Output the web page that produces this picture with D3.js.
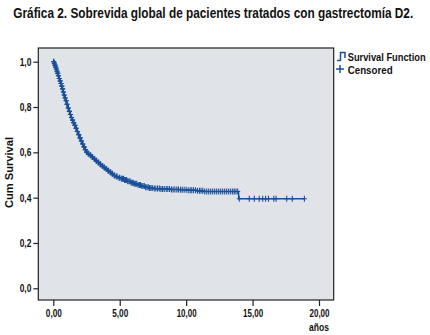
<!DOCTYPE html>
<html>
<head>
<meta charset="utf-8">
<script src="https://cdn.jsdelivr.net/npm/d3@7"></script>
<style>
  body { margin: 0; background: #fff; }
  svg { display: block; }
  text { font-family: "Liberation Sans", Arial, sans-serif; font-weight: bold; fill: #111; }
</style>
</head>
<body>
<div id="chart"></div>
<script>
// event times (years) and survival after each event
const eventTimes = [0.05, 0.10, 0.15, 0.20, 0.25, 0.30, 0.36, 0.42, 0.48, 0.54, 0.60, 0.66, 0.72, 0.78, 0.85, 0.92,
  1.00, 1.08, 1.16, 1.24, 1.32, 1.40, 1.48, 1.57, 1.66, 1.76, 1.86, 1.96, 2.06, 2.16, 2.26, 2.36, 2.46, 2.56,
  2.70, 2.85, 3.00, 3.15, 3.30, 3.45, 3.60, 3.75, 3.90, 4.05, 4.20, 4.35, 4.50, 4.65, 4.85, 5.05, 5.30, 5.55,
  5.80, 6.05, 6.30, 6.60, 6.90, 7.20, 7.55, 8.10, 8.80, 9.50, 10.10, 10.80, 11.30, 13.95];
const survival = [0.993, 0.985, 0.976, 0.968, 0.958, 0.949, 0.938, 0.926, 0.915, 0.904, 0.892, 0.880, 0.866, 0.853, 0.840, 0.828,
  0.812, 0.796, 0.781, 0.767, 0.754, 0.742, 0.731, 0.719, 0.706, 0.692, 0.678, 0.664, 0.650, 0.637, 0.624, 0.612, 0.601, 0.594,
  0.587, 0.579, 0.571, 0.563, 0.555, 0.547, 0.540, 0.533, 0.526, 0.519, 0.512, 0.505, 0.498, 0.493, 0.488, 0.484, 0.478, 0.472,
  0.466, 0.461, 0.456, 0.451, 0.446, 0.443, 0.440, 0.438, 0.436, 0.435, 0.433, 0.430, 0.427, 0.395];
// censored observations (years)
const censoredTimes = [0.02, 0.04, 0.07, 0.09, 0.12, 0.14, 0.17, 0.19, 0.22, 0.24, 0.27, 0.29, 0.31, 0.33, 0.35, 0.38,
  0.40, 0.44, 0.46, 0.51, 0.53, 0.57, 0.59, 0.63, 0.65, 0.69, 0.71, 0.75, 0.77, 0.81, 0.83, 0.88, 0.90, 0.95, 0.98,
  1.02, 1.04, 1.12, 1.14, 1.20, 1.22, 1.28, 1.30, 1.36, 1.38, 1.44, 1.46, 1.52, 1.55, 1.61, 1.64, 1.70, 1.73, 1.80,
  1.83, 1.90, 1.93, 2.00, 2.03, 2.10, 2.13, 2.20, 2.23, 2.30, 2.33, 2.40, 2.43, 2.50, 2.53, 2.62, 2.66, 2.78, 2.82,
  2.92, 2.96, 3.08, 3.12, 3.22, 3.26, 3.38, 3.42, 3.52, 3.56, 3.68, 3.72, 3.82, 3.86, 3.98, 4.02, 4.12, 4.16, 4.28,
  4.32, 4.42, 4.46, 4.58, 4.62, 4.75, 4.80, 4.95, 5.00, 5.12, 5.20, 5.28, 5.36, 5.45, 5.52, 5.60, 5.70, 5.78, 5.86,
  5.95, 6.02, 6.10, 6.20, 6.28, 6.38, 6.48, 6.56, 6.66, 6.75, 6.85, 6.95, 7.05, 7.15, 7.25, 7.35, 7.45, 7.60, 7.72,
  7.85, 7.98, 8.10, 8.22, 8.35, 8.50, 8.62, 8.75, 8.90, 9.02, 9.15, 9.30, 9.42, 9.58, 9.70, 9.85, 10.00, 10.15,
  10.30, 10.42, 10.55, 10.70, 10.85, 11.00, 11.12, 11.25, 11.40, 11.55, 11.70, 11.85, 12.00, 12.15, 12.30, 12.45,
  12.60, 12.75, 12.90, 13.05, 13.20, 13.35, 13.50, 13.62, 13.75, 13.88, 14.00, 14.75, 15.13, 15.50, 15.76, 15.98,
  16.20, 16.60, 16.77, 17.57, 17.99, 18.90];

const xTicks = [0, 5, 10, 15, 20];
const xTickLabels = ["0,00", "5,00", "10,00", "15,00", "20,00"];
const yTicks = [0, 0.2, 0.4, 0.6, 0.8, 1.0];
const yTickLabels = ["0,0", "0,2", "0,4", "0,6", "0,8", "1,0"];

const titleText = "Gráfica 2. Sobrevida global de pacientes tratados con gastrectomía D2.";
const blue = "#1a4f9a";

const W = 430, H = 335;
const box = { left: 38.3, right: 333.7, top: 48, bottom: 300 };

const x = d3.scaleLinear().domain([0, 20]).range([53.3, 319]);
const y = d3.scaleLinear().domain([0, 1]).range([288.3, 61.7]);

// the picture uses a condensed bold face: squeeze each text to its width there
function squeeze(t, width, ax, pre) {
    const k = width / t.node().getComputedTextLength();
    t.attr("transform", `${pre || ""} translate(${ax},0) scale(${k},1) translate(${-ax},0)`);
}

const svg = d3.select("#chart").append("svg")
    .attr("width", W)
    .attr("height", H);

const title = svg.append("text")
    .attr("x", 13.3)
    .attr("y", 18.3)
    .attr("font-size", 15)
    .text(titleText);
squeeze(title, 400, 13.3);

svg.append("rect")
    .attr("x", box.left)
    .attr("y", box.top)
    .attr("width", box.right - box.left)
    .attr("height", box.bottom - box.top)
    .attr("fill", "#e0e4e9")
    .attr("stroke", "#222")
    .attr("stroke-width", 1.2);

// axes
const xAxis = svg.append("g")
    .attr("transform", `translate(0,${box.bottom})`)
    .call(d3.axisBottom(x).tickValues(xTicks).tickSize(6).tickFormat((d, i) => xTickLabels[i]));
const yAxis = svg.append("g")
    .attr("transform", `translate(${box.left},0)`)
    .call(d3.axisLeft(y).tickValues(yTicks).tickSize(5).tickFormat((d, i) => yTickLabels[i]));

[xAxis, yAxis].forEach(g => {
    g.select(".domain").remove();
    g.selectAll("line").attr("stroke", "#222").attr("stroke-width", 1.2);
    g.selectAll("text")
        .attr("font-family", null)
        .style("font-size", "10.5px")
        .attr("fill", "#111");
});
xAxis.selectAll("text").attr("y", 10)
    .each(function () { const t = d3.select(this); squeeze(t, t.text().length * 4, 0); });
yAxis.selectAll("text").attr("x", -7)
    .each(function () { const t = d3.select(this); squeeze(t, t.text().length * 3.9, -7); });

const yTitle = svg.append("text")
    .attr("text-anchor", "middle")
    .attr("font-size", 10.5)
    .text("Cum Survival");
squeeze(yTitle, 71, 0, "translate(12.5,172.5) rotate(-90)");

const xTitle = svg.append("text")
    .attr("x", x(20))
    .attr("y", 331)
    .attr("text-anchor", "middle")
    .attr("font-size", 10.5)
    .text("años");
squeeze(xTitle, 20, x(20));

// survival step curve
const lastT = censoredTimes[censoredTimes.length - 1];
const steps = [[0, 1]].concat(eventTimes.map((t, i) => [t, survival[i]]));
steps.push([lastT, survival[survival.length - 1]]);

const line = d3.line()
    .x(d => x(d[0]))
    .y(d => y(d[1]))
    .curve(d3.curveStepAfter);

svg.append("path")
    .datum(steps)
    .attr("fill", "none")
    .attr("stroke", blue)
    .attr("stroke-width", 1.4)
    .attr("d", line);

function survAt(t) {
    const i = d3.bisectRight(eventTimes, t);
    return i === 0 ? 1 : survival[i - 1];
}

svg.append("g")
    .attr("stroke", blue)
    .attr("stroke-width", 1.1)
    .attr("fill", "none")
    .selectAll("path")
    .data(censoredTimes)
    .join("path")
    .attr("d", d => `M${x(d) - 2.5},${y(survAt(d))}h5M${x(d)},${y(survAt(d)) - 3}v6`);

// legend
const legend = svg.append("g");
legend.append("path")
    .attr("d", "M337,60.5H340.5V52.5H345V58")
    .attr("fill", "none")
    .attr("stroke", blue)
    .attr("stroke-width", 1.5);
legend.append("path")
    .attr("d", "M336,69H344M340,65V73")
    .attr("stroke", blue)
    .attr("stroke-width", 1.5);
const lg1 = legend.append("text")
    .attr("x", 347.7)
    .attr("y", 61)
    .attr("font-size", 10)
    .text("Survival Function");
squeeze(lg1, 78, 347.7);
const lg2 = legend.append("text")
    .attr("x", 347.7)
    .attr("y", 74)
    .attr("font-size", 10)
    .text("Censored");
squeeze(lg2, 45, 347.7);
</script>
</body>
</html>
